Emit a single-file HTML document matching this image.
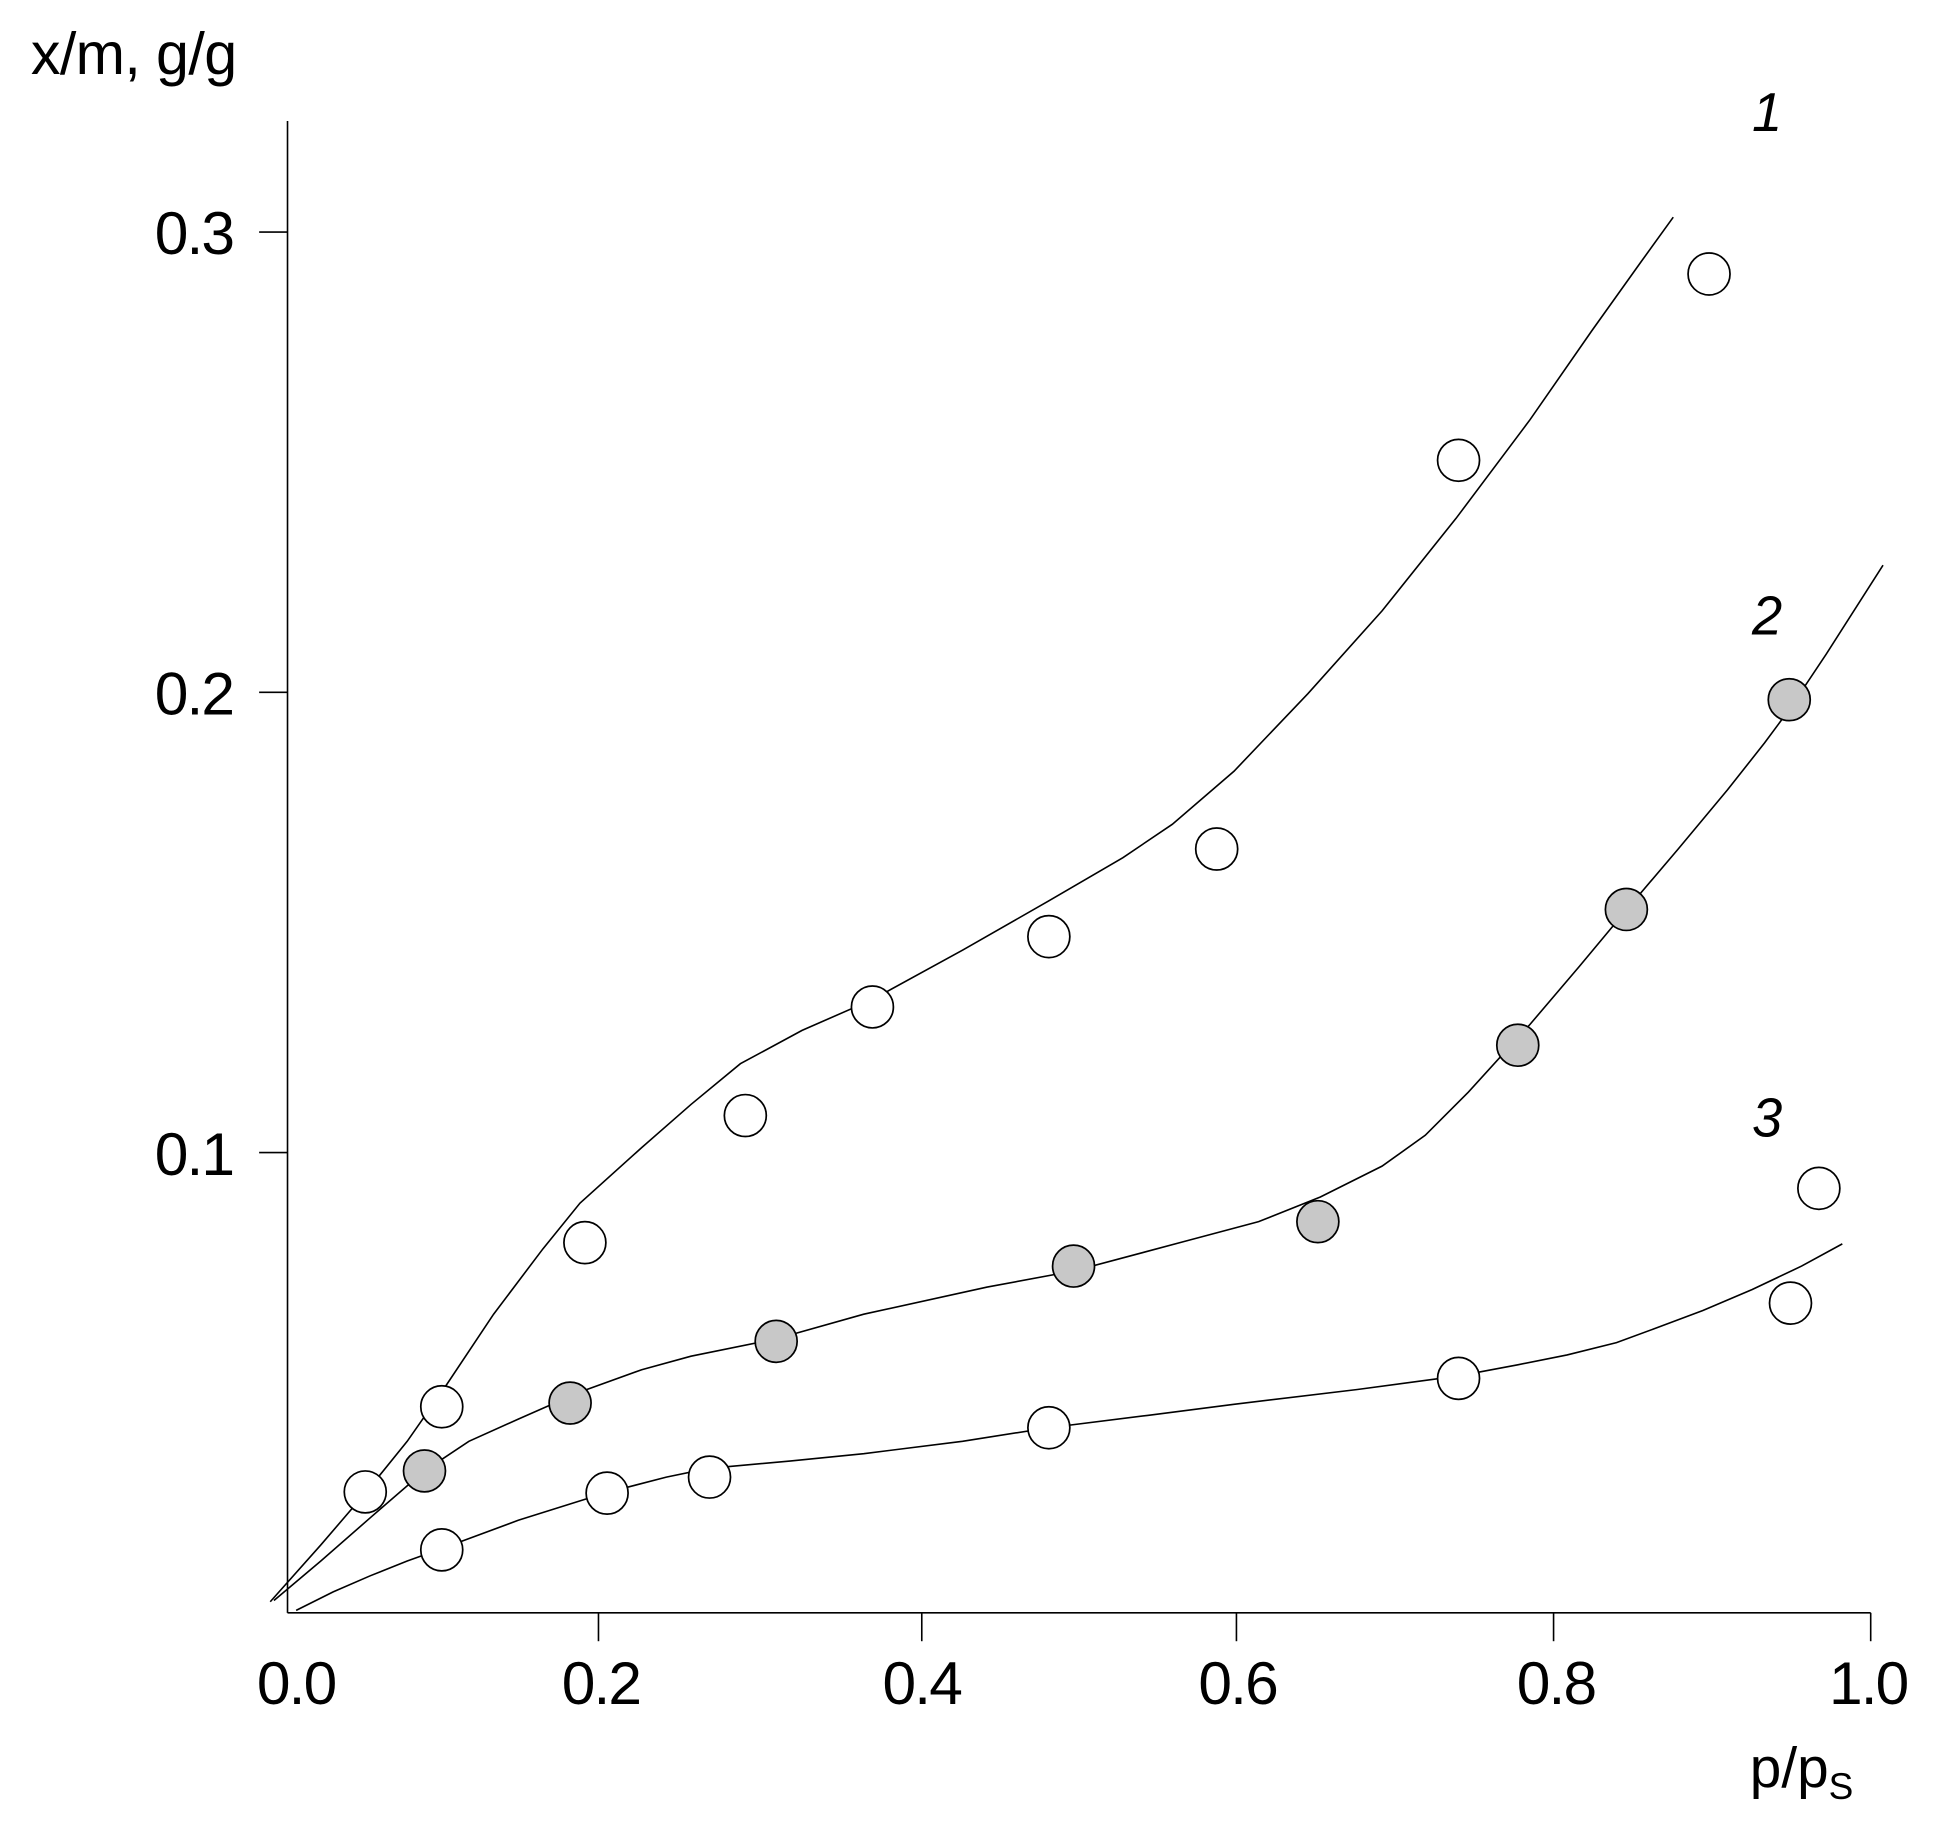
<!DOCTYPE html>
<html><head><meta charset="utf-8"><style>
html,body{margin:0;padding:0;background:#fff;}
svg{display:block;}
text{font-family:"Liberation Sans",Arial,sans-serif;fill:#000;}
</style></head><body>
<svg width="1934" height="1824" viewBox="0 0 1567.3 1478.1" xmlns="http://www.w3.org/2000/svg">
<rect width="1567.3" height="1478.1" fill="#fff"/>
<g stroke="#000" stroke-width="1.3" fill="none">
<line x1="233" y1="98" x2="233" y2="1307"/>
<line x1="233" y1="1307" x2="1516" y2="1307"/>
<line x1="210" y1="188" x2="233" y2="188"/>
<line x1="210" y1="561" x2="233" y2="561"/>
<line x1="210" y1="934" x2="233" y2="934"/>
<line x1="485" y1="1307" x2="485" y2="1330"/>
<line x1="747" y1="1307" x2="747" y2="1330"/>
<line x1="1002" y1="1307" x2="1002" y2="1330"/>
<line x1="1259" y1="1307" x2="1259" y2="1330"/>
<line x1="1516" y1="1307" x2="1516" y2="1330"/>
<path d="M219,1298 L260,1252 L296,1210 L330,1168 L360,1125 L400,1065 L440,1012 L470,975 L520,930 L560,895 L600,862 L650,835 L707,810 L780,770 L850,730 L910,695 L950,668 L1000,625 L1060,562 L1120,495 L1180,420 L1240,340 L1290,268 L1330,212 L1356,176"/>
<path d="M222,1297 L260,1265 L300,1230 L344,1192 L380,1168 L420,1150 L470,1128 L520,1110 L560,1099 L629,1085 L700,1065 L800,1043 L870,1030 L960,1006 L1020,990 L1070,970 L1120,945 L1155,920 L1190,885 L1240,830 L1280,783 L1320,735 L1360,688 L1400,640 L1430,602 L1450,575 L1480,530 L1526,458"/>
<path d="M240,1305 L270,1290 L300,1277 L330,1265 L358,1255 L420,1232 L490,1210 L540,1197 L574,1190 L640,1184 L700,1178 L780,1168 L850,1157 L930,1147 L1000,1138 L1100,1126 L1182,1115 L1230,1106 L1270,1098 L1310,1088 L1340,1077 L1380,1062 L1420,1045 L1460,1026 L1493,1008"/>
</g>
<g stroke="#000" stroke-width="1.4" fill="#fff">
<circle cx="296" cy="1209" r="17"/>
<circle cx="358" cy="1140" r="17"/>
<circle cx="474" cy="1007" r="17"/>
<circle cx="604" cy="904" r="17"/>
<circle cx="707" cy="816" r="17"/>
<circle cx="850" cy="759" r="17"/>
<circle cx="986" cy="688" r="17"/>
<circle cx="1182" cy="373" r="17"/>
<circle cx="1385" cy="222" r="17"/>
<circle cx="358" cy="1256" r="17"/>
<circle cx="492" cy="1210" r="17"/>
<circle cx="575" cy="1197" r="17"/>
<circle cx="850" cy="1157" r="17"/>
<circle cx="1182" cy="1117" r="17"/>
<circle cx="1451" cy="1056" r="17"/>
<circle cx="1474" cy="963" r="17"/>
</g>
<g stroke="#000" stroke-width="1.4" fill="#c8c8c8">
<circle cx="344" cy="1192" r="17"/>
<circle cx="462" cy="1137" r="17"/>
<circle cx="629" cy="1087" r="17"/>
<circle cx="870" cy="1026" r="17"/>
<circle cx="1068" cy="990" r="17"/>
<circle cx="1230" cy="847" r="17"/>
<circle cx="1318" cy="737" r="17"/>
<circle cx="1450" cy="567" r="17"/>
</g>
<g font-size="49" text-anchor="end" letter-spacing="-1.5">
<text x="189" y="206">0.3</text>
<text x="189" y="579">0.2</text>
<text x="189" y="952">0.1</text>
</g>
<g font-size="49" text-anchor="middle" letter-spacing="-1.5">
<text x="240" y="1381">0.0</text>
<text x="487" y="1381">0.2</text>
<text x="747" y="1381">0.4</text>
<text x="1003" y="1381">0.6</text>
<text x="1261" y="1381">0.8</text>
<text x="1514" y="1381">1.0</text>
</g>
<text x="25" y="60" font-size="48" letter-spacing="-0.5">x/m, g/g</text>
<text x="1418" y="1448" font-size="46">p/p<tspan font-size="30" dy="10">S</tspan></text>
<g font-size="44" font-style="italic" text-anchor="middle">
<text x="1432" y="106">1</text>
<text x="1432" y="514">2</text>
<text x="1432" y="921">3</text>
</g>
</svg>
</body></html>
